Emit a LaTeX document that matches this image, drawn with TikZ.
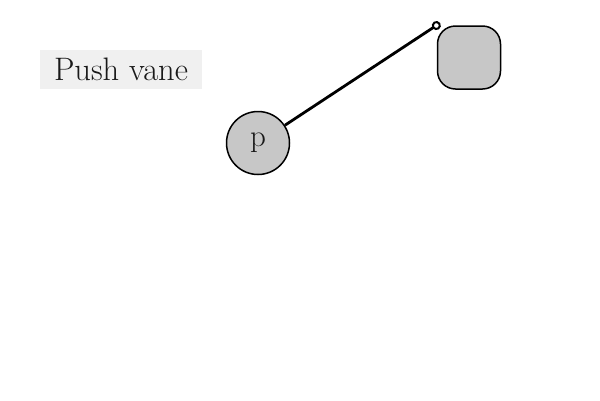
\documentclass[tikz,border=0pt]{standalone}
\usetikzlibrary{arrows.meta}
\begin{document}
\begin{tikzpicture}[x=1pt,y=-1pt,
  ball/.style={circle,draw=black,line width=1.5pt,fill=black!22,minimum size=63pt,inner sep=0pt,font=\fontsize{31}{36}\selectfont,text=black!90},
  box/.style={rectangle,rounded corners=18pt,draw=black,line width=1.5pt,fill=black!22,minimum width=63pt,minimum height=63pt,inner sep=0pt},
  tag/.style={rectangle,fill=black!6,minimum width=162pt,minimum height=39pt,inner sep=0pt,font=\fontsize{32.5}{38}\selectfont,text=black!90},
  link/.style={line width=2.8pt,shorten >=-4pt,-{Circle[open,length=9pt,width=9pt,line width=2pt]}}]
\useasboundingbox (0,0) rectangle (600,400);
\node[tag] (label) at (121,69.5) {Push vane};
\node[ball] (p) at (258,143) {p};
\node[box] (vane) at (469,57.5) {};
\draw[link] (p) -- (vane.north west);
\end{tikzpicture}
\end{document}
